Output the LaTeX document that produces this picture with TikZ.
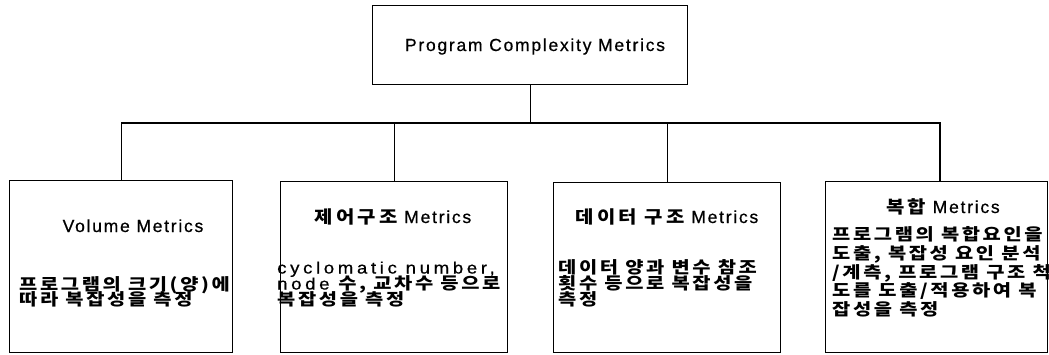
\documentclass[tikz,border=0pt]{standalone}
\usepackage{fontspec}
\setmainfont{Liberation Sans}
\newfontfamily\ttl{Liberation Sans}[LetterSpace=10,FakeBold=0.6]
\newfontfamily\ttlkr{Noto Sans CJK KR}[LetterSpace=18,FakeStretch=1.14]
\newfontfamily\bdy{Liberation Sans}[LetterSpace=22,FakeStretch=1.13,FakeBold=0.6]
\newfontfamily\bdykr{Noto Sans CJK KR}[LetterSpace=16,FakeStretch=1.2]
\newcommand{\kt}[1]{{\ttlkr\bfseries #1}}
\newcommand{\kb}[1]{{\bdykr\bfseries #1}}
\newcommand{\bodytext}[2]{\parbox[t]{260pt}{\fontsize{16.5}{#1}\selectfont\lineskiplimit=-30pt\bdy #2}}
\tikzset{
  box/.style={draw, line width=1.3pt, inner sep=0pt, anchor=north west},
  conn/.style={draw, line width=1.3pt},
  ttlnode/.style={anchor=base, inner sep=0pt, font=\fontsize{17.5}{20}\selectfont\ttl},
  bodynode/.style={anchor=base west, inner sep=0pt},
}
\begin{document}
\begin{tikzpicture}[x=1pt,y=-1pt]
\useasboundingbox (0,0) rectangle (1049,354);
% boxes
\node[box, minimum width=315pt, minimum height=79pt] (top) at (372,5) {};
\node[box, minimum width=223pt, minimum height=172pt] (b1) at (9,180) {};
\node[box, minimum width=227pt, minimum height=171pt] (b2) at (280,181) {};
\node[box, minimum width=227pt, minimum height=170pt] (b3) at (553,182) {};
\node[box, minimum width=222pt, minimum height=171pt] (b4) at (825,181) {};
% connectors
\coordinate (bus) at (0,123);
\coordinate (k4) at (940,181);
\draw[conn] (top.south) -- (top.south |- bus);
\draw[conn] (b1.north) -- (b1.north |- bus) -- (k4 |- bus) -- (k4);
\draw[conn] (b2.north) -- (b2.north |- bus);
\draw[conn] (b3.north) -- (b3.north |- bus);
% titles
\node[ttlnode] (tt) at (535,51) {Program Complexity Metrics};
\node[ttlnode] (t1) at (133,232) {Volume Metrics};
\node[ttlnode] (t2) at (393,223) {\kt{제어구조} Metrics};
\node[ttlnode] (t3) at (667,223) {\kt{데이터 구조} Metrics};
\node[ttlnode] (t4) at (943,213) {\kt{복합} Metrics};
% bodies
\node[bodynode] (d1) at (19,290) {\bodytext{15.5}{\kb{프로그램의 크기(양)에}\\\kb{따라 복잡성을 측정}}};
\node[bodynode] (d2) at (277,273.5) {\bodytext{16}{cyclomatic number,\\node \kb{수, 교차수 등으로}\\\kb{복잡성을 측정}}};
\node[bodynode] (d3) at (558,273.5) {\bodytext{16}{\kb{데이터 양과 변수 참조}\\\kb{횟수 등으로 복잡성을}\\\kb{측정}}};
\node[bodynode] (d4) at (832,240.5) {\bodytext{18.8}{\kb{프로그램의 복합요인을}\\\kb{도출, 복잡성 요인 분석}\\\kb{/계측, 프로그램 구조 척}\\\kb{도를 도출/적용하여 복}\\\kb{잡성을 측정}}};
\end{tikzpicture}
\end{document}
